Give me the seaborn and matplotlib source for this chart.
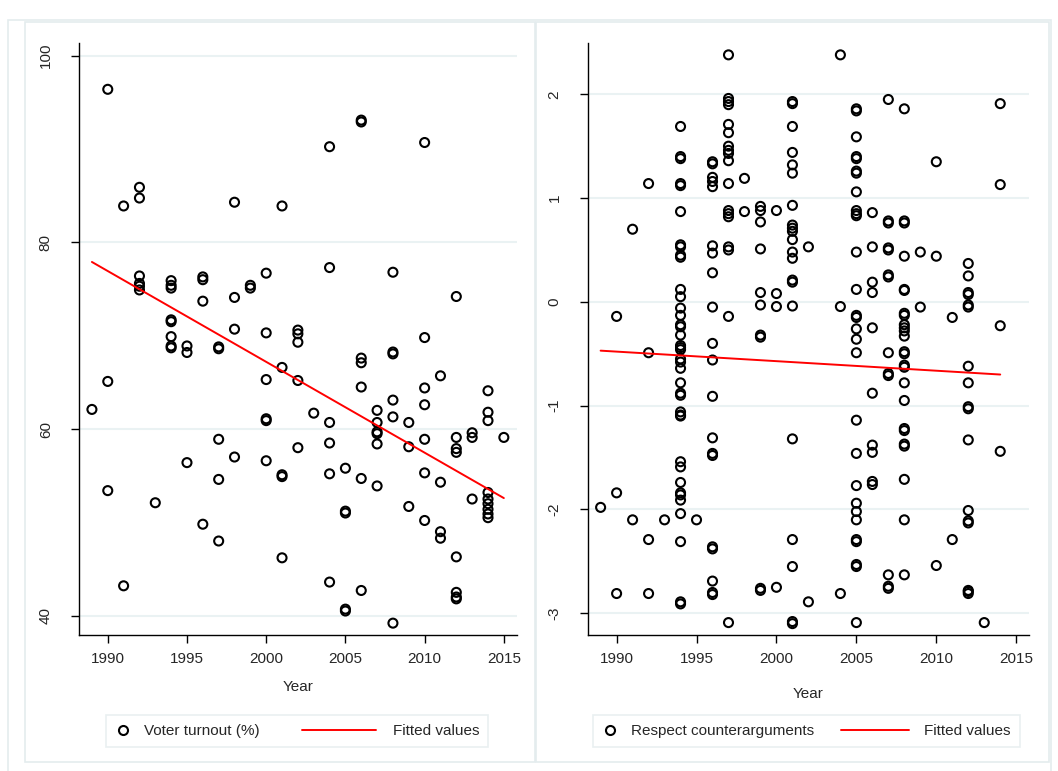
import numpy as np
import pandas as pd
import seaborn as sns
import matplotlib.pyplot as plt
from matplotlib.lines import Line2D
from matplotlib.patches import Rectangle
from matplotlib.legend_handler import HandlerLine2D


# --- left panel: voter turnout by election year ---
turnout_years = [1989, 1990, 1991, 1992, 1993, 1994, 1995, 1996, 1997, 1998, 1999, 2000, 2001,
                 2002, 2003, 2004, 2005, 2006, 2007, 2008, 2009, 2010, 2011, 2012, 2013, 2014, 2015]
turnout_counts = [1, 3, 2, 6, 1, 8, 3, 4, 5, 4, 2, 6, 5,
                  5, 1, 6, 5, 7, 6, 6, 3, 7, 4, 8, 3, 9, 1]
turnout = [
    62.1,                                        # 1989
    96.4, 65.1, 53.4,                            # 1990
    83.9, 43.2,                                  # 1991
    85.9, 84.75, 76.4, 75.6, 75.3, 74.9,         # 1992
    52.1,                                        # 1993
    75.9, 75.4, 75.1, 71.7, 71.5, 69.9, 68.9, 68.7,  # 1994
    68.9, 68.2, 56.4,                            # 1995
    76.3, 76.0, 73.7, 49.8,                      # 1996
    68.8, 68.6, 58.9, 54.6, 48.0,                # 1997
    84.3, 74.1, 70.7, 57.0,                      # 1998
    75.4, 75.1,                                  # 1999
    76.7, 70.3, 65.3, 61.1, 60.9, 56.6,          # 2000
    83.9, 66.6, 55.1, 54.9, 46.2,                # 2001
    70.6, 70.2, 69.3, 65.2, 58.0,                # 2002
    61.7,                                        # 2003
    90.25, 77.3, 60.7, 58.5, 55.2, 43.6,         # 2004
    55.8, 51.2, 51.0, 40.7, 40.5,                # 2005
    93.1, 92.9, 67.6, 67.1, 64.5, 54.7, 42.7,    # 2006
    62.0, 60.7, 59.7, 59.5, 58.4, 53.9,          # 2007
    76.8, 68.25, 68.05, 63.1, 61.3, 39.2,        # 2008
    60.7, 58.1, 51.7,                            # 2009
    90.7, 69.8, 64.4, 62.6, 58.9, 55.3, 50.2,    # 2010
    65.7, 54.3, 49.0, 48.3,                      # 2011
    74.2, 59.1, 57.9, 57.5, 46.3, 42.5, 42.0, 41.8,  # 2012
    59.6, 59.1, 52.5,                            # 2013
    64.1, 61.8, 60.9, 53.2, 52.5, 52.0, 51.4, 50.9, 50.5,  # 2014
    59.1,                                        # 2015
]
# linear fit ("Fitted values") at its two ends
turnout_fit_years = [1989, 2015]
turnout_fit = [77.9, 52.6]

# --- right panel: respect counterarguments by year ---
respect_years = [1989, 1990, 1991, 1992, 1993, 1994, 1995, 1996, 1997, 1998, 1999, 2000, 2001,
                 2002, 2004, 2005, 2006, 2007, 2008, 2009, 2010, 2011, 2012, 2013, 2014]
respect_counts = [1, 3, 2, 4, 1, 39, 1, 20, 18, 2, 10, 4, 21,
                  2, 3, 29, 10, 13, 25, 2, 3, 2, 17, 1, 4]
respect = [
    -1.98,                                                   # 1989
    -0.14, -1.84, -2.81,                                     # 1990
    0.70, -2.10,                                             # 1991
    1.14, -0.49, -2.29, -2.81,                               # 1992
    -2.10,                                                   # 1993
    1.69, 1.40, 1.38, 1.14, 1.12, 0.87, 0.55, 0.53, 0.45, 0.43,
    0.12, 0.05, -0.06, -0.13, -0.22, -0.24, -0.32, -0.42, -0.44, -0.46,
    -0.55, -0.58, -0.64, -0.78, -0.88, -0.90, -1.06, -1.09, -1.10, -1.54,
    -1.59, -1.74, -1.84, -1.86, -1.91, -2.04, -2.31, -2.89, -2.91,  # 1994
    -2.10,                                                   # 1995
    1.35, 1.33, 1.20, 1.16, 1.11, 0.54, 0.47, 0.28, -0.05, -0.40,
    -0.56, -0.91, -1.31, -1.48, -1.46, -2.36, -2.38, -2.69, -2.82, -2.80,  # 1996
    2.38, 1.96, 1.93, 1.90, 1.71, 1.63, 1.50, 1.46, 1.43, 1.36,
    1.14, 0.88, 0.85, 0.82, 0.53, 0.50, -0.14, -3.09,       # 1997
    1.19, 0.87,                                              # 1998
    0.92, 0.88, 0.77, 0.51, 0.09, -0.03, -0.32, -0.34, -2.76, -2.78,  # 1999
    0.88, 0.08, -0.045, -2.75,                               # 2000
    1.93, 1.91, 1.69, 1.44, 1.32, 1.24, 0.93, 0.74, 0.71, 0.68,
    0.60, 0.48, 0.42, 0.21, 0.19, -0.04, -1.32, -2.29, -2.55, -3.08,
    -3.10,                                                   # 2001
    0.53, -2.89,                                             # 2002
    2.38, -0.045, -2.81,                                     # 2004
    1.86, 1.84, 1.59, 1.40, 1.38, 1.26, 1.24, 1.06, 0.88, 0.85,
    0.83, 0.48, 0.12, -0.13, -0.15, -0.26, -0.36, -0.49, -1.14, -1.46,
    -1.77, -1.94, -2.02, -2.10, -2.29, -2.31, -2.53, -2.55, -3.09,  # 2005
    0.86, 0.53, 0.19, 0.09, -0.25, -0.88, -1.38, -1.45, -1.73, -1.76,  # 2006
    1.95, 0.78, 0.76, 0.52, 0.50, 0.26, 0.24, -0.49, -0.69, -0.71,
    -2.63, -2.74, -2.76,                                     # 2007
    1.86, 0.78, 0.76, 0.44, 0.12, 0.11, -0.11, -0.13, -0.22, -0.25,
    -0.28, -0.33, -0.48, -0.50, -0.61, -0.63, -0.78, -0.95, -1.22, -1.24,
    -1.37, -1.39, -1.71, -2.10, -2.63,                       # 2008
    0.48, -0.05,                                             # 2009
    1.35, 0.44, -2.54,                                       # 2010
    -0.15, -2.29,                                            # 2011
    0.37, 0.25, 0.09, 0.07, -0.03, -0.05, -0.62, -0.78, -1.01, -1.03,
    -1.33, -2.01, -2.11, -2.13, -2.78, -2.79, -2.81,         # 2012
    -3.09,                                                   # 2013
    1.91, 1.13, -0.23, -1.44,                                # 2014
]
respect_fit_years = [1989, 2014]
respect_fit = [-0.47, -0.70]

df_turnout = pd.DataFrame({'Year': np.repeat(turnout_years, turnout_counts), 'value': turnout})
df_respect = pd.DataFrame({'Year': np.repeat(respect_years, respect_counts), 'value': respect})
fit_turnout = pd.DataFrame({'Year': turnout_fit_years, 'value': turnout_fit})
fit_respect = pd.DataFrame({'Year': respect_fit_years, 'value': respect_fit})

sns.set_theme(style='white')
plt.rcParams['font.family'] = ['Liberation Sans', 'DejaVu Sans']
plt.rcParams['axes.unicode_minus'] = False

FONT = 11
GRID = '#eaf2f3'
FRAME = '#e4ecee'


class LongLine(HandlerLine2D):
    """Legend line that reaches further left than the handle box."""
    def __init__(self, start, stop, **kw):
        super().__init__(**kw)
        self.start = start
        self.stop = stop

    def create_artists(self, legend, orig_handle, xdescent, ydescent,
                       width, height, fontsize, trans):
        y = height / 2 - ydescent
        ln = Line2D([self.start - xdescent, self.stop - xdescent], [y, y],
                    color=orig_handle.get_color(), lw=orig_handle.get_linewidth())
        ln.set_transform(trans)
        return [ln]


fig = plt.figure(figsize=(10.58, 7.71), dpi=100)
fig.patch.set_facecolor('white')

# light graph-region outlines (pixel coords -> figure fraction)
W, H = 1058, 771
def frame(x0, y0, x1, y1):
    fig.add_artist(Rectangle((x0 / W, 1 - y1 / H), (x1 - x0) / W, (y1 - y0) / H,
                             transform=fig.transFigure, fill=False,
                             ec=FRAME, lw=1.2, zorder=0))

frame(8, 20, 1051, 775)
frame(25, 22, 535, 762)
frame(536, 22, 1049, 762)

ax1 = fig.add_axes([0.0749, 0.1758, 0.4133, 0.7684])
ax2 = fig.add_axes([0.5556, 0.1758, 0.4170, 0.7684])

panels = [
    (ax1, df_turnout, fit_turnout, 'Voter turnout (%)', [40, 60, 80, 100], (37.88, 101.36),
     -44.6, 9.1, 6.8, 0.2807, 10),
    (ax2, df_respect, fit_respect, 'Respect counterarguments', [-3, -2, -1, 0, 1, 2], (-3.214, 2.494),
     -39.3, 9.8, 5.3, 0.7623, 15),
]

for ax, df, fit, name, yticks, ylim, l0, l1, colsp, legx, xlpad in panels:
    sns.regplot(data=df, x='Year', y='value', ax=ax, ci=None, fit_reg=False,
                scatter_kws=dict(color='black', facecolors='none', s=42, alpha=1,
                                 linewidths=1.5, zorder=3))
    sns.lineplot(data=fit, x='Year', y='value', ax=ax, color='red', lw=1.4, zorder=4)

    ax.set_xlim(1988.2, 2015.8)
    ax.set_ylim(*ylim)
    ax.set_xticks([1990, 1995, 2000, 2005, 2010, 2015])
    ax.set_yticks(yticks)
    ax.set_ylabel('')
    ax.set_xlabel('Year', fontsize=FONT, labelpad=xlpad)

    ax.yaxis.grid(True, color=GRID, lw=1.5)
    ax.xaxis.grid(False)
    ax.set_axisbelow(True)

    for side in ['top', 'right']:
        ax.spines[side].set_visible(False)
    for side in ['left', 'bottom']:
        ax.spines[side].set_color('black')
        ax.spines[side].set_linewidth(1.0)

    ax.tick_params(axis='x', bottom=True, direction='out', length=6, width=1,
                   color='black', labelsize=FONT, pad=6)
    ax.tick_params(axis='y', left=True, direction='out', length=6, width=1,
                   color='black', labelsize=FONT, pad=13, labelrotation=90)
    for lab in ax.get_yticklabels():
        lab.set_va('center')

    h_pts = Line2D([], [], ls='none', marker='o', markersize=6.5,
                   markerfacecolor='none', markeredgecolor='black', markeredgewidth=1.5)
    h_fit = Line2D([], [], color='red', lw=1.4)
    ax.legend([h_pts, h_fit], [name, 'Fitted values'], ncol=2,
              loc='center', bbox_to_anchor=(legx, 0.0519), bbox_transform=fig.transFigure,
              handler_map={h_fit: LongLine(l0, l1)},
              fontsize=FONT, frameon=True, fancybox=False, edgecolor=FRAME,
              handlelength=1.0, handletextpad=0.9, columnspacing=colsp,
              borderpad=0.6)
    ax.get_legend().get_frame().set_linewidth(1.2)

plt.savefig('out.png', dpi=100)
